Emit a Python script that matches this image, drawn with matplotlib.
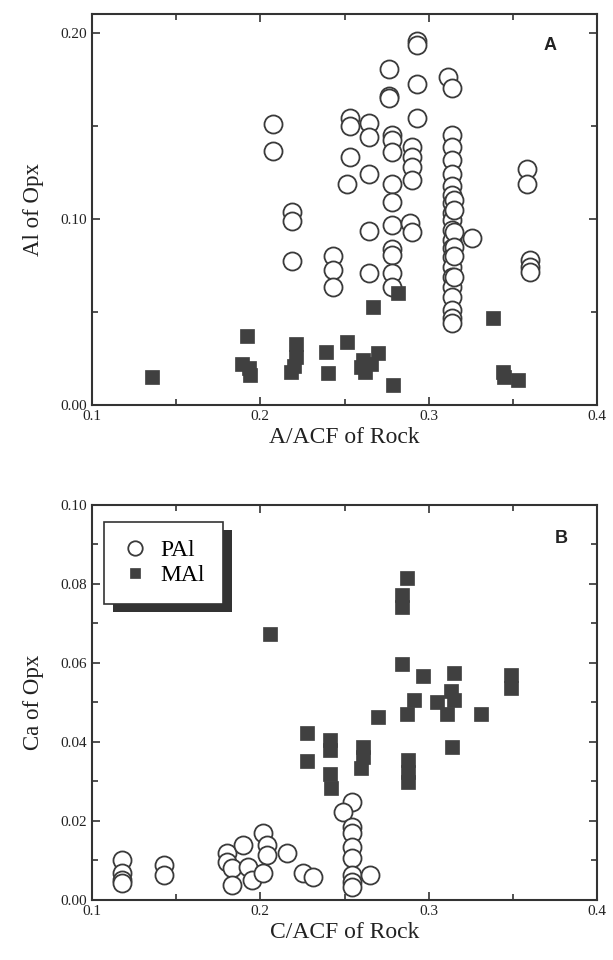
import matplotlib
matplotlib.use("Agg")
import matplotlib.pyplot as plt
from matplotlib.ticker import MultipleLocator, FormatStrFormatter
from matplotlib.patches import Rectangle

# ---------------- Panel A data: A/ACF of Rock vs Al of Opx ----------------
a_pal_x = [0.2075, 0.2075,
           0.219, 0.219, 0.219,
           0.243, 0.243, 0.243,
           0.2515, 0.2533, 0.2533, 0.2533,
           0.2646, 0.2646, 0.2646, 0.2646, 0.2646,
           0.278, 0.278, 0.278, 0.278, 0.278, 0.278, 0.278, 0.278, 0.278, 0.278,
           0.2765, 0.2765, 0.2765,
           0.290, 0.290, 0.290, 0.290, 0.289, 0.290,
           0.293, 0.293, 0.293, 0.293,
           0.3115, 0.314,
           0.314, 0.314, 0.314, 0.314, 0.314, 0.314, 0.314, 0.314, 0.314, 0.314,
           0.314, 0.314, 0.314, 0.314, 0.314, 0.314, 0.314, 0.314, 0.314, 0.314,
           0.315, 0.315, 0.315, 0.315, 0.315, 0.315,
           0.326,
           0.3585, 0.3585,
           0.360, 0.360, 0.360]
a_pal_y = [0.151, 0.1366,
           0.104, 0.099, 0.0775,
           0.080, 0.0726, 0.0636,
           0.119, 0.1543, 0.150, 0.1333,
           0.1516, 0.144, 0.124, 0.0935, 0.071,
           0.145, 0.1425, 0.136, 0.119, 0.109, 0.097, 0.0839, 0.0806, 0.071, 0.0634,
           0.1806, 0.166, 0.165,
           0.1387, 0.1333, 0.128, 0.121, 0.0978, 0.093,
           0.1957, 0.1935, 0.1726, 0.1543,
           0.1763, 0.1704,
           0.145, 0.139, 0.132, 0.124, 0.118, 0.113, 0.1086, 0.103, 0.0995, 0.094,
           0.0887, 0.0844, 0.0796, 0.0742, 0.0688, 0.0634, 0.058, 0.051, 0.047, 0.044,
           0.110, 0.105, 0.093, 0.085, 0.080, 0.069,
           0.0898,
           0.127, 0.119,
           0.078, 0.074, 0.0715]

a_mal_x = [0.1357, 0.192, 0.189, 0.194, 0.193,
           0.221, 0.221, 0.218, 0.220,
           0.239, 0.240, 0.2515,
           0.260, 0.261, 0.262, 0.270, 0.266, 0.279,
           0.267, 0.282,
           0.338, 0.344, 0.345, 0.353]
a_mal_y = [0.015, 0.037, 0.022, 0.016, 0.020,
           0.033, 0.026, 0.018, 0.021,
           0.0285, 0.017, 0.034,
           0.0205, 0.024, 0.018, 0.028, 0.022, 0.011,
           0.0527, 0.060,
           0.047, 0.018, 0.015, 0.0135]

# ---------------- Panel B data: C/ACF of Rock vs Ca of Opx ----------------
b_pal_x = [0.118, 0.118, 0.118, 0.118,
           0.1428, 0.1428,
           0.180, 0.180, 0.1897, 0.183, 0.183, 0.1927, 0.195,
           0.2016, 0.204, 0.204, 0.2016, 0.2159, 0.2254, 0.2313,
           0.2545, 0.249, 0.2545, 0.2545, 0.2545, 0.2545, 0.2545, 0.2545, 0.2545,
           0.265]
b_pal_y = [0.0101, 0.0068, 0.0051, 0.0043,
           0.0089, 0.0063,
           0.0119, 0.0096, 0.0139, 0.0081, 0.0038, 0.0084, 0.0051,
           0.017, 0.0139, 0.0114, 0.0068, 0.0119, 0.0068, 0.0058,
           0.0248, 0.0223, 0.0185, 0.017, 0.0134, 0.0106, 0.0063, 0.0046, 0.0033,
           0.0063]

b_mal_x = [0.2058,
           0.228, 0.228,
           0.2414, 0.2414, 0.2414, 0.242,
           0.261, 0.261, 0.260,
           0.270,
           0.284, 0.284, 0.287,
           0.284, 0.2967,
           0.291, 0.287,
           0.288, 0.288, 0.288,
           0.305, 0.311, 0.313, 0.315, 0.315, 0.314,
           0.331,
           0.349, 0.349]
b_mal_y = [0.0673,
           0.0423, 0.0352,
           0.0405, 0.038, 0.032, 0.0283,
           0.0387, 0.0362, 0.0334,
           0.0463,
           0.0772, 0.0742, 0.0815,
           0.0597, 0.0567,
           0.0506, 0.047,
           0.0354, 0.0324, 0.0299,
           0.050, 0.047, 0.053, 0.0506, 0.0575, 0.0387,
           0.047,
           0.057, 0.0537]

plt.rcParams['font.family'] = ['Liberation Serif', 'DejaVu Serif']

fig = plt.figure(figsize=(6.13, 9.6), dpi=100)
axA = fig.add_axes([0.150, 0.578, 0.824, 0.407])
axB = fig.add_axes([0.150, 0.0625, 0.824, 0.4115])

edge = '#3a3a3a'
fill = '#404040'
circ_kw = dict(marker='o', linestyle='none', markersize=13, markerfacecolor='white',
               markeredgecolor=edge, markeredgewidth=1.3)
sq_kw = dict(marker='s', linestyle='none', markersize=9.5, markerfacecolor=fill,
             markeredgecolor=fill, markeredgewidth=0.5)


def style(ax, ymax, ymaj, ymin, xlabel, ylabel):
    ax.set_xlim(0.1, 0.4)
    ax.set_ylim(0, ymax)
    ax.xaxis.set_major_locator(MultipleLocator(0.1))
    ax.xaxis.set_minor_locator(MultipleLocator(0.05))
    ax.yaxis.set_major_locator(MultipleLocator(ymaj))
    ax.yaxis.set_minor_locator(MultipleLocator(ymin))
    ax.xaxis.set_major_formatter(FormatStrFormatter('%.1f'))
    ax.yaxis.set_major_formatter(FormatStrFormatter('%.2f'))
    ax.tick_params(which='both', direction='in', top=True, right=True,
                   color='#333333', width=1.2)
    ax.tick_params(which='major', length=6, labelsize=11, labelcolor='#222222')
    ax.tick_params(which='minor', length=4)
    for s in ax.spines.values():
        s.set_color('#333333')
        s.set_linewidth(1.5)
    ax.set_xlabel(xlabel, fontsize=17, color='#222222', labelpad=3)
    ax.set_ylabel(ylabel, fontsize=16.5, color='#222222', labelpad=12)


style(axA, 0.21, 0.10, 0.05, 'A/ACF of Rock', 'Al of Opx')
axA.plot(a_pal_x, a_pal_y, **circ_kw)
axA.plot(a_mal_x, a_mal_y, **sq_kw)
axA.text(0.907, 0.92, 'A', transform=axA.transAxes, fontsize=13, fontweight='bold',
         family=['Liberation Sans', 'DejaVu Sans'], ha='center', va='center', color='#222222')

style(axB, 0.10, 0.02, 0.01, 'C/ACF of Rock', 'Ca of Opx')
hp, = axB.plot(b_pal_x, b_pal_y, label='PAl', **circ_kw)
hm, = axB.plot(b_mal_x, b_mal_y, label='MAl', **sq_kw)
axB.text(0.93, 0.916, 'B', transform=axB.transAxes, fontsize=13, fontweight='bold',
         family=['Liberation Sans', 'DejaVu Sans'], ha='center', va='center', color='#222222')

leg = axB.legend(handles=[hp, hm], loc='upper left', bbox_to_anchor=(0.024, 0.957),
                 fancybox=False, frameon=True, edgecolor='#333333', facecolor='white',
                 framealpha=1.0, fontsize=17,
                 markerscale=0.8, handletextpad=0.55, borderpad=0.75, labelspacing=0.15,
                 handlelength=1.1, borderaxespad=0)
leg.get_frame().set_linewidth(1.2)
leg.set_zorder(10)

# solid offset shadow behind the legend box
fig.canvas.draw()
bb = leg.get_window_extent()
inv = fig.transFigure.inverted()
(x0, y0) = inv.transform((bb.x0 + 9, bb.y0 - 8))
(x1, y1) = inv.transform((bb.x1 + 9, bb.y1 - 8))
shadow = Rectangle((x0, y0), x1 - x0, y1 - y0, transform=fig.transFigure,
                   facecolor='#333333', edgecolor='none', zorder=9)
axB.add_artist(shadow)
shadow.set_clip_on(False)

fig.savefig('out.png', dpi=100)
